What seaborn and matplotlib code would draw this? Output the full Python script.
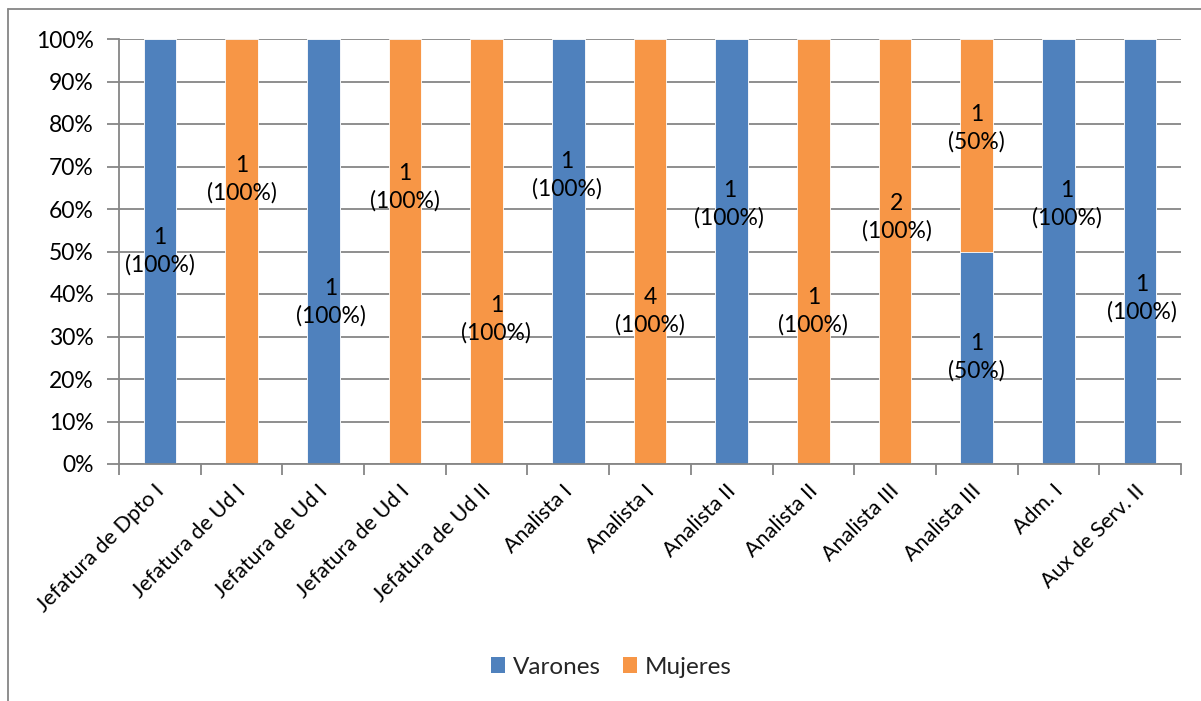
import numpy as np
import pandas as pd
import matplotlib
matplotlib.use("Agg")
import matplotlib.pyplot as plt
from matplotlib.lines import Line2D
from matplotlib.patches import Patch
from matplotlib.ticker import FixedLocator, PercentFormatter
from matplotlib.transforms import ScaledTranslation
import seaborn as sns

# Staff counts per position, split by sex
puestos = ["Jefatura de Dpto I", "Jefatura de Ud I", "Jefatura de Ud I",
           "Jefatura de Ud I", "Jefatura de Ud II", "Analista I", "Analista I",
           "Analista II", "Analista II", "Analista III", "Analista III",
           "Adm. I", "Aux de Serv. II"]
varones = [1, 0, 1, 0, 0, 1, 0, 1, 0, 0, 1, 1, 1]
mujeres = [0, 1, 0, 1, 1, 0, 4, 0, 1, 2, 1, 0, 0]

# Where each data label sits (x shift in category units, y in percent)
label_dx_v = [0.0, 0.0, 0.09, 0.0, 0.0, -0.02, 0.0, -0.03, 0.0, 0.0, 0.0, 0.10, 0.02]
label_y_v = [50, None, 38, None, None, 68, None, 61, None, None, 25, 61, 39]
label_dx_m = [0.0, 0.0, 0.0, 0.0, 0.12, 0.0, 0.0, 0.0, 0.0, 0.02, 0.0, 0.0, 0.0]
label_y_m = [None, 67, None, 65, 34, None, 36, None, 36, 58, 79, None, None]

BLUE = "#4F81BD"
ORANGE = "#F79646"
GRID = "#868686"
FS = 16.5

sns.set_theme(style="white")
plt.rcParams["font.family"] = ["Lato", "DejaVu Sans"]

n = len(puestos)
total = np.array(varones) + np.array(mujeres)
pct_v = 100 * np.array(varones) / total
pct_m = 100 * np.array(mujeres) / total

df = pd.DataFrame({
    "pos": np.arange(n),
    "v": pct_v,
    "total": pct_v + pct_m,
})

fig = plt.figure(figsize=(12.01, 7.01), dpi=100)
ax = fig.add_axes([119 / 1201, 1 - 464 / 701, (1181 - 119) / 1201, (464 - 39) / 701])

sns.barplot(data=df, x="pos", y="total", color=ORANGE, width=0.4,
            saturation=1, ax=ax, edgecolor="white", linewidth=0.6)
sns.barplot(data=df, x="pos", y="v", color=BLUE, width=0.4,
            saturation=1, ax=ax, edgecolor="white", linewidth=0.6)

ax.set_xlim(-0.5, n - 0.5)
ax.set_ylim(0, 100)
ax.set_xlabel("")
ax.set_ylabel("")

# y axis: 10% steps with gridlines
ax.yaxis.set_major_locator(FixedLocator(np.arange(0, 101, 10)))
ax.yaxis.set_major_formatter(PercentFormatter(decimals=0))
ax.grid(axis="y", color=GRID, linewidth=1.3)
ax.set_axisbelow(True)

# x axis: labels at bar centres, tick marks between categories
ax.set_xticks(np.arange(n))
ax.set_xticklabels(puestos, rotation=45, ha="right", va="top",
                   rotation_mode="anchor")
ax.set_xticks(np.arange(-0.5, n, 1.0), minor=True)
ax.tick_params(axis="x", which="major", length=0, pad=12, labelsize=15.5,
               labelcolor="black")
ax.tick_params(axis="x", which="minor", length=8, width=1.3, color=GRID,
               direction="out", bottom=True)
ax.tick_params(axis="y", length=9, width=1.3, color=GRID, direction="out",
               left=True, labelsize=FS, labelcolor="black", pad=9)
shift = ScaledTranslation(-6 / 100, 0, fig.dpi_scale_trans)
for lbl in ax.get_xticklabels():
    lbl.set_transform(lbl.get_transform() + shift)

for side in ("top", "right"):
    ax.spines[side].set_visible(False)
for side in ("left", "bottom"):
    ax.spines[side].set_color(GRID)
    ax.spines[side].set_linewidth(1.3)

# data labels: count on the first line, share on the second
for i in range(n):
    if varones[i] > 0:
        ax.text(i + label_dx_v[i], label_y_v[i],
                f"{varones[i]}\n({pct_v[i]:.0f}%)", ha="center", va="center",
                fontsize=FS, color="black", linespacing=1.35)
    if mujeres[i] > 0:
        ax.text(i + label_dx_m[i], label_y_m[i],
                f"{mujeres[i]}\n({pct_m[i]:.0f}%)", ha="center", va="center",
                fontsize=FS, color="black", linespacing=1.35)

handles = [Patch(facecolor=BLUE, edgecolor="none", label="Varones"),
           Patch(facecolor=ORANGE, edgecolor="none", label="Mujeres")]
fig.legend(handles=handles, loc="center", bbox_to_anchor=(611 / 1201, 1 - 667 / 701),
           ncol=2, frameon=False, fontsize=17.5, handlelength=0.6,
           handleheight=0.6, handletextpad=0.3, columnspacing=0.9)

# chart frame along the left and top edges
fig.add_artist(Line2D([8 / 1201, 8 / 1201], [0, 1 - 9 / 701],
                      transform=fig.transFigure, color=GRID, linewidth=1.3))
fig.add_artist(Line2D([8 / 1201, 1], [1 - 9 / 701, 1 - 9 / 701],
                      transform=fig.transFigure, color=GRID, linewidth=1.3))

fig.savefig("out.png", dpi=100, facecolor="white")
